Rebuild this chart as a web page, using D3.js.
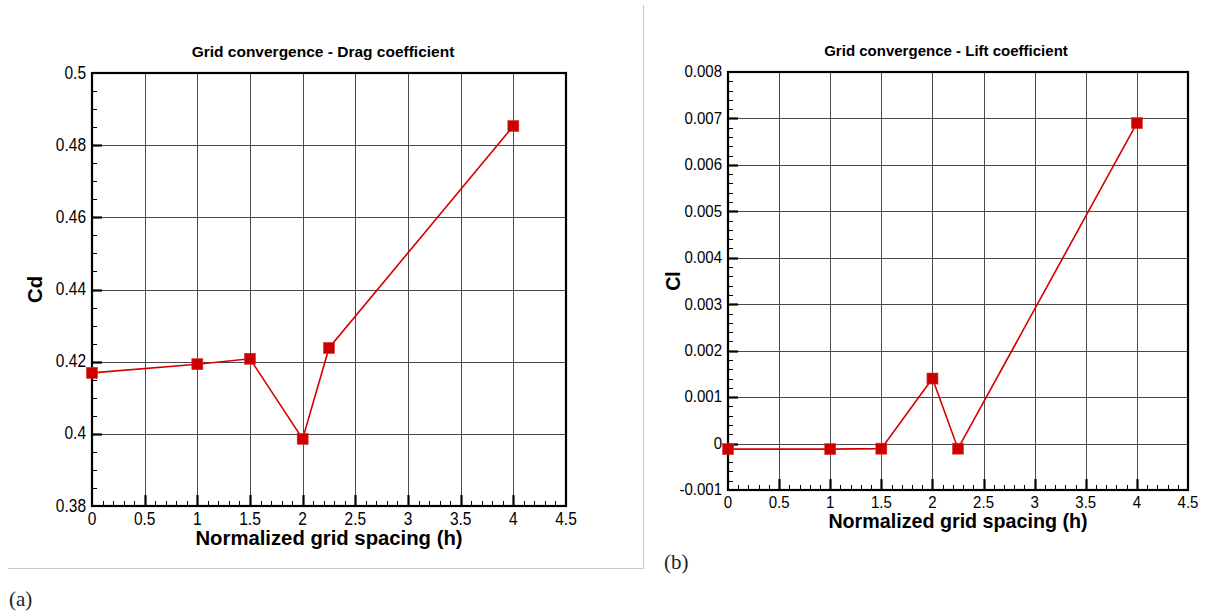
<!DOCTYPE html>
<html>
<head>
<meta charset="utf-8">
<script src="https://cdn.jsdelivr.net/npm/d3@7/dist/d3.min.js"></script>
<style>
  html, body { margin: 0; padding: 0; background: #fff; }
  svg { display: block; }
  .tick-label { font-family: "Liberation Sans", Arial, sans-serif; fill: #000; }
  .title { font-family: "Liberation Sans", Arial, sans-serif; font-weight: bold; fill: #000; }
  .caption { font-family: "Liberation Serif", "DejaVu Serif", serif; fill: #222; }
</style>
</head>
<body>
<svg id="fig" width="1214" height="612"></svg>
<script>
// Normalized grid spacing of each run
const gridSpacing = [0, 1, 1.5, 2, 2.25, 4];

// Drag coefficient per grid
const dragCoeff = [0.4169, 0.4193, 0.4208, 0.3986, 0.4238, 0.4853];

// Lift coefficient per grid
const liftCoeff = [-0.00012, -0.00012, -0.00011, 0.00140, -0.00011, 0.00690];

// Axis tick values
const xTicks = [0, 0.5, 1, 1.5, 2, 2.5, 3, 3.5, 4, 4.5];
const cdTicks = [0.38, 0.4, 0.42, 0.44, 0.46, 0.48, 0.5];
const clTicks = [-0.001, 0, 0.001, 0.002, 0.003, 0.004, 0.005, 0.006, 0.007, 0.008];
const cdTickLabels = ["0.38", "0.4", "0.42", "0.44", "0.46", "0.48", "0.5"];
const clTickLabels = ["-0.001", "0", "0.001", "0.002", "0.003", "0.004", "0.005", "0.006", "0.007", "0.008"];
const xTickLabels = ["0", "0.5", "1", "1.5", "2", "2.5", "3", "3.5", "4", "4.5"];

const svg = d3.select("#fig");

// separator frame around panel (a)
svg.append("line").attr("x1", 643.5).attr("x2", 643.5).attr("y1", 5).attr("y2", 568.5)
  .attr("stroke", "#c8c8c8").attr("stroke-width", 1);
svg.append("line").attr("x1", 8).attr("x2", 643.5).attr("y1", 568.5).attr("y2", 568.5)
  .attr("stroke", "#c8c8c8").attr("stroke-width", 1);

svg.append("text").attr("class", "caption").attr("x", 9).attr("y", 606)
  .attr("font-size", 21).text("(a)");
svg.append("text").attr("class", "caption").attr("x", 664).attr("y", 569)
  .attr("font-size", 21).text("(b)");

function drawPanel(cfg) {
  const g = svg.append("g");
  const x = d3.scaleLinear().domain([0, 4.5]).range([cfg.left, cfg.right]);
  const y = d3.scaleLinear().domain(cfg.yDomain).range([cfg.bottom, cfg.top]);
  const fs = cfg.fontScale;
  const stretch = 1.15;

  // grid lines at major ticks
  g.selectAll(".vgrid").data(xTicks.slice(1, -1)).join("line")
    .attr("x1", d => Math.round(x(d)) + 0.5).attr("x2", d => Math.round(x(d)) + 0.5)
    .attr("y1", cfg.top).attr("y2", cfg.bottom)
    .attr("stroke", "#4a4a4a").attr("stroke-width", 1);
  g.selectAll(".hgrid").data(cfg.yTicks.slice(1, -1)).join("line")
    .attr("y1", d => Math.round(y(d)) + 0.5).attr("y2", d => Math.round(y(d)) + 0.5)
    .attr("x1", cfg.left).attr("x2", cfg.right)
    .attr("stroke", "#4a4a4a").attr("stroke-width", 1);

  // minor ticks on x axis (every 0.1)
  const xMinor = d3.range(0, 45).map(i => i / 10).filter(v => Math.abs(v * 2 - Math.round(v * 2)) > 1e-6);
  g.selectAll(".xminor").data(xMinor).join("line")
    .attr("x1", d => Math.round(x(d)) + 0.5).attr("x2", d => Math.round(x(d)) + 0.5)
    .attr("y1", cfg.bottom).attr("y2", cfg.bottom - 5)
    .attr("stroke", "#000").attr("stroke-width", 1);
  // major ticks on x axis
  g.selectAll(".xmajor").data(xTicks.slice(1, -1)).join("line")
    .attr("x1", d => Math.round(x(d)) + 0.5).attr("x2", d => Math.round(x(d)) + 0.5)
    .attr("y1", cfg.bottom).attr("y2", cfg.bottom - 11)
    .attr("stroke", "#000").attr("stroke-width", 2.2);

  // minor ticks on y axis
  const step = cfg.yTicks[1] - cfg.yTicks[0];
  const yMinor = [];
  for (let i = 0; i < cfg.yTicks.length - 1; i++) {
    for (let k = 1; k < cfg.minorDiv; k++) yMinor.push(cfg.yTicks[i] + step * k / cfg.minorDiv);
  }
  g.selectAll(".yminor").data(yMinor).join("line")
    .attr("y1", d => Math.round(y(d)) + 0.5).attr("y2", d => Math.round(y(d)) + 0.5)
    .attr("x1", cfg.left).attr("x2", cfg.left + 5)
    .attr("stroke", "#000").attr("stroke-width", 1);
  g.selectAll(".ymajor").data(cfg.yTicks.slice(1, -1)).join("line")
    .attr("y1", d => Math.round(y(d)) + 0.5).attr("y2", d => Math.round(y(d)) + 0.5)
    .attr("x1", cfg.left).attr("x2", cfg.left + 10)
    .attr("stroke", "#000").attr("stroke-width", 2.2);

  // plot frame
  g.append("rect").attr("x", cfg.left).attr("y", cfg.top)
    .attr("width", cfg.right - cfg.left).attr("height", cfg.bottom - cfg.top)
    .attr("fill", "none").attr("stroke", "#000").attr("stroke-width", 2.2);

  // x tick labels
  g.selectAll(".xlab").data(xTicks).join("text")
    .attr("class", "tick-label")
    .attr("text-anchor", "middle")
    .attr("font-size", 15.5 * fs)
    .attr("transform", d => `translate(${x(d)},${cfg.bottom + 19 * fs}) scale(1,${stretch})`)
    .text((d, i) => xTickLabels[i]);

  // y tick labels
  g.selectAll(".ylab").data(cfg.yTicks).join("text")
    .attr("class", "tick-label")
    .attr("text-anchor", "end")
    .attr("font-size", 15.5 * fs)
    .attr("transform", d => `translate(${cfg.left - 6},${y(d) + 5.5 * fs}) scale(1,${stretch})`)
    .text((d, i) => cfg.yTickLabels[i]);

  // chart title
  g.append("text").attr("class", "title")
    .attr("text-anchor", "middle")
    .attr("font-size", 15.5 * fs)
    .attr("transform", `translate(${cfg.titleX},${cfg.top - 16})`)
    .text(cfg.title);

  // x axis title
  g.append("text").attr("class", "title")
    .attr("text-anchor", "middle")
    .attr("font-size", 20.3 * fs)
    .attr("transform", `translate(${(cfg.left + cfg.right) / 2},${cfg.bottom + 39 * fs})`)
    .text("Normalized grid spacing (h)");

  // y axis title
  g.append("text").attr("class", "title")
    .attr("text-anchor", "middle")
    .attr("font-size", 20.3 * fs)
    .attr("transform", `translate(${cfg.yTitleX},${(cfg.top + cfg.bottom) / 2}) rotate(-90)`)
    .text(cfg.yTitle);

  // data series
  const pts = gridSpacing.map((h, i) => [h, cfg.values[i]]);
  g.append("path").datum(pts)
    .attr("d", d3.line().x(d => x(d[0])).y(d => y(d[1])))
    .attr("fill", "none").attr("stroke", "#d40000").attr("stroke-width", 1.6);
  const m = 11;
  g.selectAll(".marker").data(pts).join("rect")
    .attr("x", d => x(d[0]) - m / 2).attr("y", d => y(d[1]) - m / 2)
    .attr("width", m).attr("height", m)
    .attr("fill", "#cc0000").attr("stroke", "#e03030").attr("stroke-width", 0.6);
}

drawPanel({
  left: 92, right: 566, top: 73, bottom: 506,
  yDomain: [0.38, 0.5], yTicks: cdTicks, yTickLabels: cdTickLabels, minorDiv: 4,
  values: dragCoeff, title: "Grid convergence - Drag coefficient", titleX: 323,
  yTitle: "Cd", yTitleX: 42, fontScale: 1
});

drawPanel({
  left: 728, right: 1188, top: 72, bottom: 490,
  yDomain: [-0.001, 0.008], yTicks: clTicks, yTickLabels: clTickLabels, minorDiv: 5,
  values: liftCoeff, title: "Grid convergence - Lift coefficient", titleX: 946,
  yTitle: "Cl", yTitleX: 680, fontScale: 0.97
});
</script>
</body>
</html>
